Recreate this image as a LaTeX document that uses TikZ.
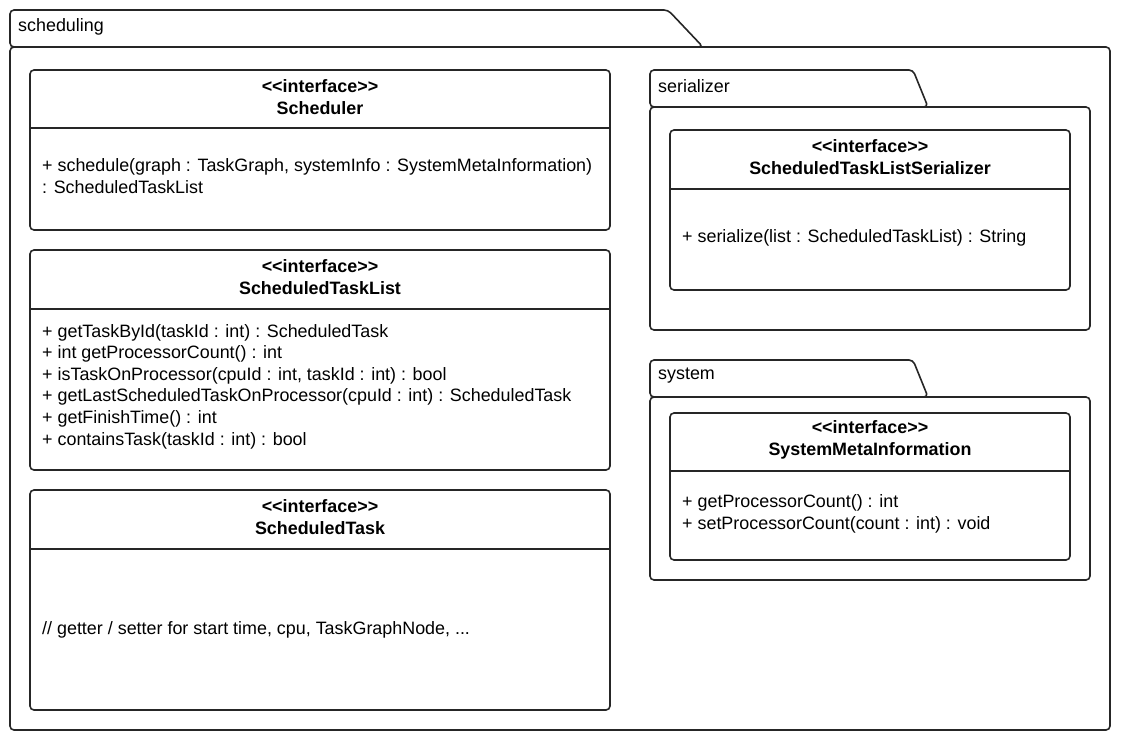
\documentclass[tikz,border=0pt]{standalone}
\usepackage{fontspec}
\setmainfont{Liberation Sans}
\begin{document}
\begin{tikzpicture}[x=1pt,y=-1pt,
  ln/.style={draw=black!85,line width=1.6pt,rounded corners=4pt},
  dv/.style={draw=black!85,line width=1.2pt},
  tx/.style={font=\fontsize{17.9}{21.6}\selectfont,inner sep=0pt,anchor=west,align=left},
  hd/.style={font=\fontsize{17.9}{21.6}\selectfont\bfseries,inner sep=0pt,align=center}]
\def\st{{<}{<}interface{>}{>}}
\useasboundingbox (0,0) rectangle (1124,744);
% outer package
\draw[ln] (10,47) -- (10,10) -- (668,10) -- (703,47) -- cycle;
\draw[ln] (10,47) rectangle (1110,730);
\node[tx] (pscheduling) at (18,27) {scheduling};
% Scheduler
\draw[ln] (30,70) rectangle (610,230);
\draw[dv] (30,128) -- (610,128);
\node[hd] (hsch) at (320,97) {\st\\Scheduler};
\node[tx] (msch) at (42,176) {+ schedule(graph : TaskGraph, systemInfo : SystemMetaInformation)\\: ScheduledTaskList};
% ScheduledTaskList
\draw[ln] (30,250) rectangle (610,470);
\draw[dv] (30,309) -- (610,309);
\node[hd] (hstl) at (320,277) {\st\\ScheduledTaskList};
\node[tx] (mstl) at (42,386.5) {+ getTaskById(taskId : int) : ScheduledTask\\+ int getProcessorCount() : int\\+ isTaskOnProcessor(cpuId : int, taskId : int) : bool\\+ getLastScheduledTaskOnProcessor(cpuId : int) : ScheduledTask\\+ getFinishTime() : int\\+ containsTask(taskId : int) : bool};
% ScheduledTask
\draw[ln] (30,490) rectangle (610,710);
\draw[dv] (30,549) -- (610,549);
\node[hd] (hst) at (320,517) {\st\\ScheduledTask};
\node[tx] (mst) at (42,630) {// getter / setter for start time, cpu, TaskGraphNode, ...};
% serializer package
\draw[ln] (650,107) -- (650,70) -- (913,70) -- (928,107) -- cycle;
\draw[ln] (650,107) rectangle (1090,330);
\node[tx] (pser) at (658,86) {serializer};
\draw[ln] (670,130) rectangle (1070,290);
\draw[dv] (670,189) -- (1070,189);
\node[hd] (hser) at (870,157) {\st\\ScheduledTaskListSerializer};
\node[tx] (mser) at (682,238) {+ serialize(list : ScheduledTaskList) : String};
% system package
\draw[ln] (650,397) -- (650,360) -- (913,360) -- (928,397) -- cycle;
\draw[ln] (650,397) rectangle (1090,580);
\node[tx] (psys) at (658,376) {system};
\draw[ln] (670,413) rectangle (1070,560);
\draw[dv] (670,471) -- (1070,471);
\node[hd] (hsys) at (870,440) {\st\\SystemMetaInformation};
\node[tx] (msys) at (682,514) {+ getProcessorCount() : int\\+ setProcessorCount(count : int) : void};
\end{tikzpicture}
\end{document}
